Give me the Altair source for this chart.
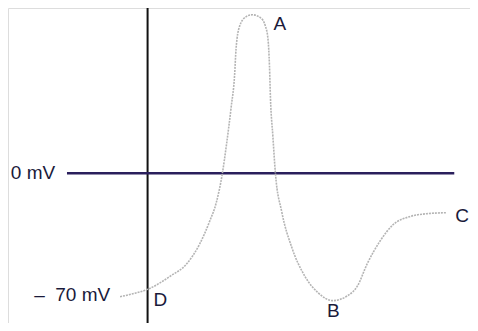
import altair as alt
import pandas as pd

# Action potential curve: time (ms, schematic) vs membrane potential (mV, schematic)
curve_t = [-0.56, -0.30, 0.00, 0.46, 0.80, 1.06, 1.26, 1.40, 1.52, 1.60, 1.70, 1.77,
           1.80, 1.87, 2.00, 2.13, 2.30, 2.40, 2.45, 2.48, 2.50, 2.55, 2.60, 2.73,
           2.93, 3.20, 3.47, 3.77, 4.07, 4.27, 4.47, 4.73, 5.00, 5.33, 5.67, 6.07]
curve_v = [-72.3, -70.6, -68.0, -60.3, -52.9, -41.4, -28.3, -16.9, -0.3, 15.7, 38.6, 57.4,
           72.9, 86.0, 91.7, 92.9, 91.1, 86.0, 78.6, 63.1, 44.3, 21.4, 0.3, -22.6,
           -43.1, -60.3, -70.0, -74.6, -71.7, -66.0, -52.9, -39.7, -30.0, -25.4, -23.7, -23.1]

# Labels
label_text = ["0 mV", "–\u00a0 70 mV", "D", "A", "B", "C"]
label_t = [-1.88, -0.76, 0.12, 2.56, 3.78, 6.26]
label_v = [0.0, -71.1, -74.3, 87.4, -80.6, -25.1]
label_align = ["right", "right", "left", "left", "center", "left"]

# Reference lines
zero_line_t = [-1.64, 6.24]
axis_line_v = [96.9, -87.7]

X_DOM = [-2.84, 6.56]
Y_DOM = [-87.71, 96.86]

xs = alt.Scale(domain=X_DOM, nice=False, zero=False)
ys = alt.Scale(domain=Y_DOM, nice=False, zero=False)

curve_df = pd.DataFrame({"t": curve_t, "v": curve_v})
labels_df = pd.DataFrame({"label": label_text, "t": label_t, "v": label_v, "align": label_align})
zero_df = pd.DataFrame({"t": [zero_line_t[0]], "t2": [zero_line_t[1]], "v": [0.0]})
axis_df = pd.DataFrame({"t": [0.0], "v": [axis_line_v[0]], "v2": [axis_line_v[1]]})

vaxis = alt.Chart(axis_df).mark_rule(color="#111111", strokeWidth=2).encode(
    x=alt.X("t:Q", scale=xs, axis=None),
    y=alt.Y("v:Q", scale=ys, axis=None),
    y2="v2:Q",
)

zero = alt.Chart(zero_df).mark_rule(color="#2a1f5c", strokeWidth=2.5).encode(
    x=alt.X("t:Q", scale=xs, axis=None),
    x2="t2:Q",
    y=alt.Y("v:Q", scale=ys, axis=None),
)

curve = alt.Chart(curve_df).mark_line(
    color="#b4b4b4", strokeWidth=1.6, strokeDash=[2, 1], interpolate="monotone"
).encode(
    x=alt.X("t:Q", scale=xs, axis=None),
    y=alt.Y("v:Q", scale=ys, axis=None),
    order="t:Q",
)

def text_layer(al):
    return alt.Chart(labels_df[labels_df["align"] == al]).mark_text(
        align=al, baseline="middle", font="Liberation Sans", fontSize=19, color="#1a1a3a"
    ).encode(
        x=alt.X("t:Q", scale=xs, axis=None),
        y=alt.Y("v:Q", scale=ys, axis=None),
        text="label:N",
    )

chart = alt.layer(
    vaxis, zero, curve, text_layer("right"), text_layer("left"), text_layer("center")
).properties(
    width=462, height=315, padding=0, autosize=alt.AutoSizeParams(type="none")
).configure_view(stroke="transparent").configure(background="white")

chart.save("out.html", embed_options={"renderer": "svg", "actions": False})
